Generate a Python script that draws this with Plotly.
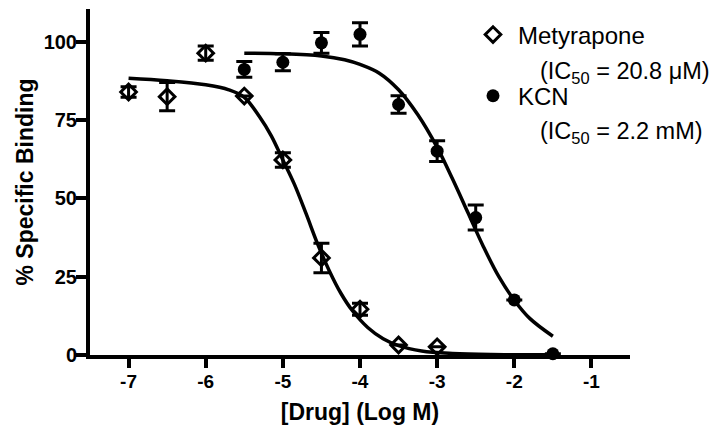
import plotly.graph_objects as go

# measured points (mean +/- SEM)
mety_x = [-7, -6.5, -6, -5.5, -5, -4.5, -4, -3.5, -3]
mety_y = [84.0, 82.5, 96.4, 82.7, 62.3, 31.0, 14.6, 3.2, 2.6]
mety_err = [1.7, 4.5, 2.3, 0, 2.3, 4.7, 1.9, 0, 0]

kcn_x = [-5.5, -5, -4.5, -4, -3.5, -3, -2.5, -2, -1.5]
kcn_y = [91.2, 93.5, 99.7, 102.4, 80.0, 65.1, 43.9, 17.6, 0.4]
kcn_err = [2.5, 2.7, 3.3, 3.7, 2.8, 3.3, 4.0, 0, 0]

# fitted curves
mety_fit_x = [-7, -6.5, -6, -5.7, -5.5, -5.3, -5.15, -5, -4.85, -4.7, -4.55, -4.4,
              -4.25, -4.1, -3.9, -3.7, -3.5, -3.2, -2.8, -2.3, -1.5]
mety_fit_y = [88.4, 87.6, 86.3, 84.7, 82.3, 76.0, 70.0, 62.3, 54.5, 45.2, 35.5, 27.0,
              19.8, 14.2, 8.8, 5.2, 3.0, 1.3, 0.5, 0.15, 0.05]

kcn_fit_x = [-5.5, -5, -4.5, -4.2, -4, -3.75, -3.5, -3.25, -3, -2.8, -2.6, -2.4,
             -2.2, -2, -1.8, -1.5]
kcn_fit_y = [96.4, 96.2, 95.5, 94.3, 92.8, 90.0, 84.7, 76.7, 66.3, 56.2, 45.4, 34.6,
             25.0, 17.5, 11.7, 6.0]

x_ticks = [-7, -6, -5, -4, -3, -2, -1]
x_ticktext = ["-7", "-6", "-5", "-4", "-3", "-2", "-1"]
y_ticks = [0, 25, 50, 75, 100]

legend_names = ["Metyrapone", "KCN"]
ic50_labels = ["(IC<sub>50</sub> = 20.8 \u03bcM)", "(IC<sub>50</sub> = 2.2 mM)"]

FONT = "Arial, Liberation Sans, sans-serif"

fig = go.Figure()

fig.add_trace(go.Scatter(x=mety_fit_x, y=mety_fit_y, mode="lines", line_shape="spline",
                         line=dict(color="black", width=3.5), showlegend=False,
                         hoverinfo="skip", cliponaxis=False))
fig.add_trace(go.Scatter(x=kcn_fit_x, y=kcn_fit_y, mode="lines", line_shape="spline",
                         line=dict(color="black", width=3.5), showlegend=False,
                         hoverinfo="skip", cliponaxis=False))

fig.add_trace(go.Scatter(
    x=mety_x, y=mety_y, mode="markers", name=legend_names[0], legendgroup="a",
    marker=dict(symbol="diamond-open", size=12, color="black", line=dict(width=3)),
    error_y=dict(type="data", array=mety_err, color="black", thickness=3, width=8),
    cliponaxis=False))
fig.add_trace(go.Scatter(
    x=kcn_x, y=kcn_y, mode="markers", name=legend_names[1], legendgroup="b",
    marker=dict(symbol="circle", size=13, color="black"),
    error_y=dict(type="data", array=kcn_err, color="black", thickness=3, width=8),
    cliponaxis=False))

# IC50 lines under each legend entry
for label, yy in zip(ic50_labels, [0.817, 0.642]):
    fig.add_annotation(text=label, xref="paper", yref="paper", x=0.83, y=yy,
                       xanchor="left", yanchor="middle", showarrow=False,
                       font=dict(family=FONT, size=23.5, color="black"))

# the page adds an 8px body margin, so the figure is 8px smaller than the window
fig.update_layout(
    width=719, height=424,
    margin=dict(l=82, r=97, t=1, b=77),
    plot_bgcolor="white", paper_bgcolor="white",
    font=dict(family=FONT, color="black"),
    legend=dict(x=0.70, y=0.99, xanchor="left", yanchor="top", itemwidth=40,
                font=dict(family=FONT, size=24), tracegroupgap=27,
                bgcolor="rgba(0,0,0,0)"),
    xaxis=dict(range=[-7.5, -0.5], tickvals=x_ticks, ticktext=x_ticktext,
               ticks="outside", ticklen=9, automargin=False, ticklabelstandoff=-3,
               tickwidth=3.5, tickcolor="black", showline=True, linewidth=4,
               linecolor="black", showgrid=False, zeroline=False,
               tickfont=dict(family=FONT, size=19, color="black", weight="bold"),
               title=dict(text="[Drug] (Log M)", standoff=14,
                          font=dict(family=FONT, size=23, weight="bold"))),
    yaxis=dict(range=[0, 110.5], tickvals=y_ticks, ticks="outside", ticklen=10,
               automargin=False, ticklabelstandoff=-5,
               tickwidth=3.5, tickcolor="black", showline=True, linewidth=4,
               linecolor="black", showgrid=False, zeroline=False,
               tickfont=dict(family=FONT, size=20, color="black", weight="bold"),
               title=dict(text="% Specific Binding", standoff=5,
                          font=dict(family=FONT, size=23, weight="bold"))),
)

fig.write_html("out.html")
